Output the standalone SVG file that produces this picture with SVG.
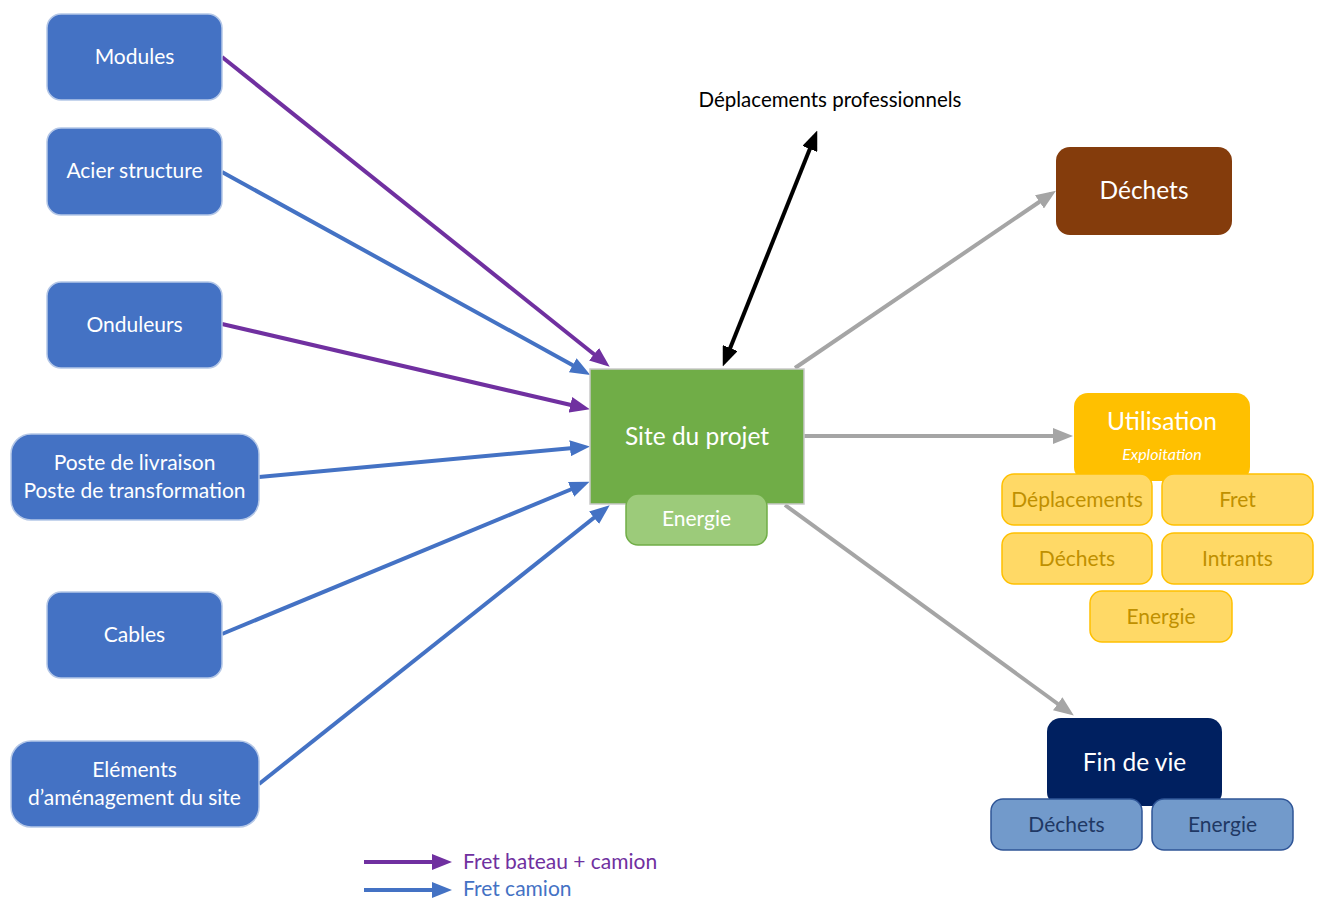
<svg xmlns="http://www.w3.org/2000/svg" width="1322" height="900" viewBox="0 0 1322 900">
<style>
text{font-family:Lato,"Open Sans","Liberation Sans",sans-serif;text-anchor:middle}
.src rect{fill:#4472C4;stroke:#B4C7E7;stroke-width:1.5}
.src text{fill:#fff;font-size:21px}
.yel rect{fill:#FFD966;stroke:#FFC000;stroke-width:1.5}
.yel text{fill:#BF9000;font-size:21px}
.fin rect{fill:#729ACB;stroke:#2F5597;stroke-width:1.5}
.fin text{fill:#1F3864;font-size:21px}
.c{fill:none;stroke-width:4}
.p{stroke:#7030A0}
.b{stroke:#4472C4}
.g{stroke:#A5A5A5}
.k{stroke:#000}
</style>
<defs>
<marker id="ap" markerUnits="userSpaceOnUse" viewBox="0 0 20 16" refX="14" refY="8" markerWidth="20" markerHeight="16" orient="auto"><path d="M0,0L20,8L0,16z" fill="#7030A0"/></marker>
<marker id="ab" markerUnits="userSpaceOnUse" viewBox="0 0 20 16" refX="14" refY="8" markerWidth="20" markerHeight="16" orient="auto"><path d="M0,0L20,8L0,16z" fill="#4472C4"/></marker>
<marker id="ag" markerUnits="userSpaceOnUse" viewBox="0 0 20 16" refX="14" refY="8" markerWidth="20" markerHeight="16" orient="auto"><path d="M0,0L20,8L0,16z" fill="#A5A5A5"/></marker>
<marker id="ak" markerUnits="userSpaceOnUse" viewBox="0 0 20 16" refX="14" refY="8" markerWidth="20" markerHeight="16" orient="auto-start-reverse"><path d="M0,0L20,8L0,16z" fill="#000"/></marker>
</defs>
<rect width="1322" height="900" fill="#fff"/>

<g id="connectors">
<line class="c p" x1="222" y1="57" x2="605" y2="363" marker-end="url(#ap)"/>
<line class="c b" x1="222" y1="172" x2="585" y2="372" marker-end="url(#ab)"/>
<line class="c p" x1="222" y1="324" x2="584" y2="408" marker-end="url(#ap)"/>
<line class="c b" x1="259" y1="477" x2="584" y2="447" marker-end="url(#ab)"/>
<line class="c b" x1="222" y1="634" x2="584" y2="484" marker-end="url(#ab)"/>
<line class="c b" x1="259" y1="784" x2="605" y2="509" marker-end="url(#ab)"/>
<line class="c k" x1="725" y1="361" x2="815" y2="136" marker-start="url(#ak)" marker-end="url(#ak)"/>
<line class="c g" x1="795" y1="368" x2="1051" y2="194" marker-end="url(#ag)"/>
<line class="c g" x1="804" y1="436" x2="1067" y2="436" marker-end="url(#ag)"/>
<line class="c g" x1="785" y1="505" x2="1069" y2="712" marker-end="url(#ag)"/>
</g>

<g id="modules" class="src"><rect x="47" y="14" width="175" height="86" rx="14"/><text x="134.5" y="64">Modules</text></g>
<g id="acier" class="src"><rect x="47" y="128" width="175" height="87" rx="14"/><text x="134.5" y="178">Acier structure</text></g>
<g id="onduleurs" class="src"><rect x="47" y="282" width="175" height="86" rx="14"/><text x="134.5" y="332">Onduleurs</text></g>
<g id="poste" class="src"><rect x="11" y="434" width="248" height="86" rx="20"/><text x="134.5" y="470">Poste de livraison</text><text x="134.5" y="498">Poste de transformation</text></g>
<g id="cables" class="src"><rect x="47" y="592" width="175" height="86" rx="14"/><text x="134.5" y="642">Cables</text></g>
<g id="elements" class="src"><rect x="11" y="741" width="248" height="86" rx="20"/><text x="134.5" y="777">Eléments</text><text x="134.5" y="805">d’aménagement du site</text></g>

<g id="site"><rect x="590" y="369" width="214" height="135" fill="#70AD47" stroke="#C9C9C9" stroke-width="1.5"/><text x="697" y="445" fill="#fff" font-size="24.5">Site du projet</text></g>
<g id="site-energie"><rect x="626" y="494" width="141" height="51" rx="12" fill="#9CCB7A" stroke="#70AD47" stroke-width="1.5"/><text x="696.5" y="526" fill="#fff" font-size="21">Energie</text></g>

<g id="deplacements-pro"><text x="830" y="107" fill="#000" font-size="20.5">Déplacements professionnels</text></g>

<g id="dechets"><rect x="1056" y="147" width="176" height="88" rx="14" fill="#843C0C"/><text x="1144" y="199" fill="#fff" font-size="24.5">Déchets</text></g>

<g id="utilisation"><rect x="1074" y="393" width="176" height="88" rx="14" fill="#FFC000"/><text x="1162" y="430" fill="#fff" font-size="24.5">Utilisation</text><text x="1162" y="460" fill="#fff" font-size="16" font-style="italic">Exploitation</text></g>
<g id="u-deplacements" class="yel"><rect x="1002" y="474" width="150" height="51" rx="12"/><text x="1077" y="507">Déplacements</text></g>
<g id="u-fret" class="yel"><rect x="1162" y="474" width="151" height="51" rx="12"/><text x="1237.5" y="507">Fret</text></g>
<g id="u-dechets" class="yel"><rect x="1002" y="533" width="150" height="51" rx="12"/><text x="1077" y="566">Déchets</text></g>
<g id="u-intrants" class="yel"><rect x="1162" y="533" width="151" height="51" rx="12"/><text x="1237.5" y="566">Intrants</text></g>
<g id="u-energie" class="yel"><rect x="1090" y="591" width="142" height="51" rx="12"/><text x="1161" y="624">Energie</text></g>

<g id="findevie"><rect x="1047" y="718" width="175" height="88" rx="14" fill="#002060"/><text x="1134.5" y="771" fill="#fff" font-size="24.5">Fin de vie</text></g>
<g id="f-dechets" class="fin"><rect x="991" y="799" width="151" height="51" rx="12"/><text x="1066.5" y="832">Déchets</text></g>
<g id="f-energie" class="fin"><rect x="1152" y="799" width="141" height="51" rx="12"/><text x="1222.5" y="832">Energie</text></g>

<g id="legend">
<line class="c p" x1="364" y1="862" x2="446" y2="862" marker-end="url(#ap)"/>
<line class="c b" x1="364" y1="890" x2="446" y2="890" marker-end="url(#ab)"/>
<text x="463" y="869" fill="#7030A0" font-size="21" style="text-anchor:start">Fret bateau + camion</text>
<text x="463" y="896" fill="#4472C4" font-size="21" style="text-anchor:start">Fret camion</text>
</g>
</svg>
